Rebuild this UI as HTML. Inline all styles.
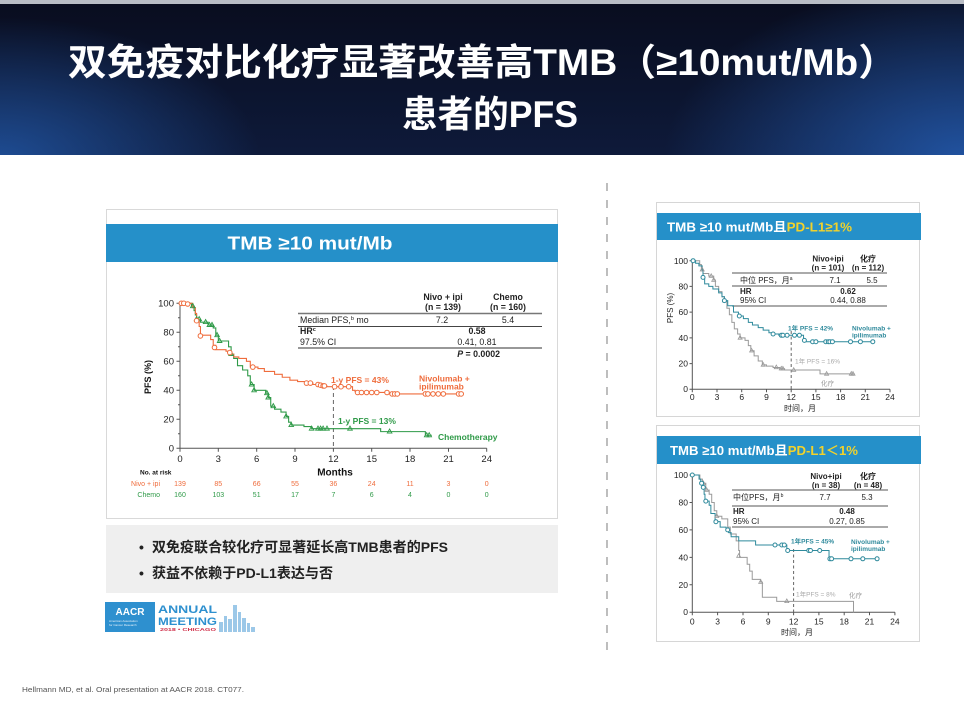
<!DOCTYPE html>
<html><head><meta charset="utf-8"><style>
html,body{margin:0;padding:0;background:#fff;}
svg{display:block;}
text{font-family:"Liberation Sans","Noto Sans CJK SC",sans-serif;}
</style></head><body>
<svg width="964" height="723" viewBox="0 0 964 723" xmlns="http://www.w3.org/2000/svg">
<defs>
<linearGradient id="bg" x1="0" y1="0" x2="0" y2="1">
<stop offset="0" stop-color="#090d1f"/><stop offset="1" stop-color="#0e1a3a"/>
</linearGradient>
<radialGradient id="gl" gradientUnits="userSpaceOnUse" cx="0" cy="160" r="260" gradientTransform="translate(0,160) scale(1,0.55) translate(0,-160)">
<stop offset="0" stop-color="#1f4f98" stop-opacity="0.95"/><stop offset="1" stop-color="#1f4f98" stop-opacity="0"/>
</radialGradient>
<radialGradient id="gr" gradientUnits="userSpaceOnUse" cx="964" cy="160" r="300" gradientTransform="translate(964,160) scale(1,0.6) translate(-964,-160)">
<stop offset="0" stop-color="#2256a6" stop-opacity="0.95"/><stop offset="1" stop-color="#2256a6" stop-opacity="0"/>
</radialGradient>
<circle id="oc" r="2.3" fill="#fff" stroke="#ef6c3c" stroke-width="1"/>
<path id="gt" d="M0,-2.6 L2.3,1.5 L-2.3,1.5Z" fill="none" stroke="#2f9a48" stroke-width="0.9"/>
<circle id="tc" r="2" fill="#fff" stroke="#2f8a9c" stroke-width="1"/>
<path id="yt" d="M0,-2.3 L2,1.3 L-2,1.3Z" fill="none" stroke="#999" stroke-width="0.8"/>
</defs>

<!-- header -->
<rect x="0" y="0" width="964" height="5" fill="#b9bdc5"/>
<rect x="0" y="4" width="964" height="151" fill="url(#bg)"/>
<rect x="0" y="4" width="964" height="151" fill="url(#gl)"/>
<rect x="0" y="4" width="964" height="151" fill="url(#gr)"/>
<text x="68" y="75" font-size="37" font-weight="bold" fill="#fff" textLength="829" lengthAdjust="spacingAndGlyphs">双免疫对比化疗显著改善高TMB（≥10mut/Mb）</text>
<text x="402" y="127" font-size="37" font-weight="bold" fill="#fff" textLength="176" lengthAdjust="spacingAndGlyphs">患者的PFS</text>

<!-- separator -->
<line x1="607" y1="183" x2="607" y2="658" stroke="#9a9a9a" stroke-width="1.3" stroke-dasharray="8 9"/>

<!-- main card -->
<rect x="106.5" y="209.5" width="451" height="309" fill="#fff" stroke="#d9d9d9"/>
<rect x="106" y="224" width="452" height="38" fill="#2590c9"/>
<text x="310" y="249.5" font-size="18.5" font-weight="bold" fill="#fff" text-anchor="middle" textLength="165" lengthAdjust="spacingAndGlyphs">TMB ≥10 mut/Mb</text>

<!-- main axes -->
<g stroke="#555" stroke-width="1" fill="none">
<path d="M180,303.3 V448.3 H486.7"/>
<path d="M176.5,448.3H180M176.5,419.3H180M176.5,390.3H180M176.5,361.3H180M176.5,332.3H180M176.5,303.3H180"/>
<path d="M178,433.8H180M178,404.8H180M178,375.8H180M178,346.8H180M178,317.8H180"/>
<path d="M180,448.3v3.5M218.3,448.3v3.5M256.7,448.3v3.5M295,448.3v3.5M333.4,448.3v3.5M371.7,448.3v3.5M410,448.3v3.5M448.5,448.3v3.5M486.7,448.3v3.5"/>
</g>
<g font-size="9.5" fill="#222" text-anchor="end">
<text x="174" y="451.5">0</text><text x="174" y="422.5">20</text><text x="174" y="393.5">40</text><text x="174" y="364.5">60</text><text x="174" y="335.5">80</text><text x="174" y="306.5">100</text>
</g>
<g font-size="9.5" fill="#222" text-anchor="middle">
<text x="180" y="462">0</text><text x="218.3" y="462">3</text><text x="256.7" y="462">6</text><text x="295" y="462">9</text><text x="333.4" y="462">12</text><text x="371.7" y="462">15</text><text x="410" y="462">18</text><text x="448.5" y="462">21</text><text x="486.7" y="462">24</text>
</g>
<text x="335" y="475.5" font-size="10" font-weight="bold" fill="#111" text-anchor="middle">Months</text>
<text transform="translate(151,377) rotate(-90)" font-size="9" font-weight="bold" fill="#111" text-anchor="middle">PFS (%)</text>
<text x="140" y="474.5" font-size="6.5" font-weight="bold" fill="#111">No. at risk</text>
<g font-size="7" fill="#ef6c3c" text-anchor="middle">
<text x="160" y="486" text-anchor="end">Nivo + ipi</text>
<text x="180" y="486">139</text><text x="218.3" y="486">85</text><text x="256.7" y="486">66</text><text x="295" y="486">55</text><text x="333.4" y="486">36</text><text x="371.7" y="486">24</text><text x="410" y="486">11</text><text x="448.5" y="486">3</text><text x="486.7" y="486">0</text>
</g>
<g font-size="7" fill="#2f9a48" text-anchor="middle">
<text x="160" y="497" text-anchor="end">Chemo</text>
<text x="180" y="497">160</text><text x="218.3" y="497">103</text><text x="256.7" y="497">51</text><text x="295" y="497">17</text><text x="333.4" y="497">7</text><text x="371.7" y="497">6</text><text x="410" y="497">4</text><text x="448.5" y="497">0</text><text x="486.7" y="497">0</text>
</g>

<!-- main table -->
<g font-size="8.8" fill="#222">
<text x="443" y="300" font-weight="bold" text-anchor="middle">Nivo + ipi</text>
<text x="443" y="310" font-weight="bold" text-anchor="middle">(n = 139)</text>
<text x="508" y="300" font-weight="bold" text-anchor="middle">Chemo</text>
<text x="508" y="310" font-weight="bold" text-anchor="middle">(n = 160)</text>
<text x="300" y="323">Median PFS,<tspan font-size="5.5" dy="-3">b</tspan><tspan dy="3"> mo</tspan></text>
<text x="442" y="323" text-anchor="middle">7.2</text>
<text x="508" y="323" text-anchor="middle">5.4</text>
<text x="300" y="334" font-weight="bold">HR<tspan font-size="5.5" dy="-3">c</tspan></text>
<text x="477" y="334" font-weight="bold" text-anchor="middle">0.58</text>
<text x="300" y="345">97.5% CI</text>
<text x="477" y="345" text-anchor="middle">0.41, 0.81</text>
<text x="500" y="357" font-weight="bold" text-anchor="end"><tspan font-style="italic">P</tspan> = 0.0002</text>
</g>
<g stroke="#777" fill="none">
<line x1="298" y1="313.5" x2="542" y2="313.5" stroke-width="1.6"/>
<line x1="298" y1="326.5" x2="542" y2="326.5" stroke-width="1" stroke="#444"/>
<line x1="298" y1="348" x2="542" y2="348" stroke-width="1.6"/>
</g>

<!-- main curves -->
<line x1="333.4" y1="386" x2="333.4" y2="448.3" stroke="#666" stroke-width="1" stroke-dasharray="4 3"/>
<g transform="translate(180,448.3) scale(12.78,-1.45)" fill="none" stroke-width="1.1">
<path vector-effect="non-scaling-stroke" stroke="#2f9a48" d="M0,100 H0.9 V98 H1.1 V95 H1.2 V92 H1.3 V89 H1.6 V87 H2.2 V85 H2.6 V83 H2.8 V78 H3.0 V74 H3.8 V70 H4.0 V65 H4.2 V62 H4.5 V57 H4.9 V54 H5.3 V50 H5.5 V44 H5.8 V40 H6.7 V38 H6.9 V35 H7.1 V29 H7.4 V27 H7.9 V25 H8.3 V22 H8.5 V18 H8.7 V16 H9.7 V15 H10.3 V13.5 H15.7 V11.5 H19.2 V9 H19.7"/>
<path vector-effect="non-scaling-stroke" stroke="#ef6c3c" d="M0,100 H1.0 V97 H1.2 V93 H1.3 V88 H1.5 V84 H1.6 V78 H2.4 V75 H2.6 V71 H2.8 V68 H3.6 V67 H3.9 V65 H4.2 V63 H4.6 V62 H5.2 V60 H5.5 V56 H6.1 V55 H6.6 V53 H7.4 V51 H8 V49 H8.6 V47 H9.2 V46 H9.8 V45 H10.4 V44 H11 V43 H11.5 V42.5 H13.5 V40 H13.7 V39 H14 V38.5 H16.3 V37.5 H22.2"/>
</g>
<g>
<use href="#gt" x="192.8" y="306.2"/><use href="#gt" x="196.6" y="319.2"/><use href="#gt" x="199.2" y="319.2"/><use href="#gt" x="205.6" y="322.1"/><use href="#gt" x="209.4" y="325"/><use href="#gt" x="212" y="325"/><use href="#gt" x="217.1" y="335.2"/><use href="#gt" x="219.6" y="341"/><use href="#gt" x="231.1" y="354"/><use href="#gt" x="251.6" y="384.5"/><use href="#gt" x="254.1" y="390.3"/><use href="#gt" x="266.9" y="393.2"/><use href="#gt" x="268.2" y="397.5"/><use href="#gt" x="273.3" y="406.2"/><use href="#gt" x="286.1" y="416.4"/><use href="#gt" x="291.2" y="425.1"/><use href="#gt" x="311.6" y="428.7"/><use href="#gt" x="318" y="428.7"/><use href="#gt" x="320.6" y="428.7"/><use href="#gt" x="323.1" y="428.7"/><use href="#gt" x="327" y="428.7"/><use href="#gt" x="350" y="428.7"/><use href="#gt" x="389.6" y="431.6"/><use href="#gt" x="426.7" y="435.3"/><use href="#gt" x="429.2" y="435.3"/>
</g>
<g>
<use href="#oc" x="181.3" y="303.3"/><use href="#oc" x="183.8" y="303.3"/><use href="#oc" x="187.7" y="304"/><use href="#oc" x="196.6" y="320.7"/><use href="#oc" x="200.4" y="335.9"/><use href="#oc" x="214.5" y="347.5"/><use href="#oc" x="229.8" y="352.6"/><use href="#oc" x="252.8" y="367.1"/><use href="#oc" x="306.5" y="383.1"/><use href="#oc" x="310.4" y="383.1"/><use href="#oc" x="318" y="384.5"/><use href="#oc" x="320.6" y="385.2"/><use href="#oc" x="323.1" y="385.9"/><use href="#oc" x="324.4" y="385.9"/><use href="#oc" x="334.6" y="386.7"/><use href="#oc" x="341" y="386.7"/><use href="#oc" x="348.7" y="386.7"/><use href="#oc" x="357.6" y="392.5"/><use href="#oc" x="361.5" y="392.5"/><use href="#oc" x="366.6" y="392.5"/><use href="#oc" x="371.7" y="392.5"/><use href="#oc" x="376.8" y="392.5"/><use href="#oc" x="387" y="392.5"/><use href="#oc" x="392.1" y="393.9"/><use href="#oc" x="394.7" y="393.9"/><use href="#oc" x="397.3" y="393.9"/><use href="#oc" x="425.4" y="393.9"/><use href="#oc" x="427.9" y="393.9"/><use href="#oc" x="433" y="393.9"/><use href="#oc" x="438.2" y="393.9"/><use href="#oc" x="443.3" y="393.9"/><use href="#oc" x="458.6" y="393.9"/><use href="#oc" x="461.2" y="393.9"/>
</g>
<g font-size="8.5" font-weight="bold">
<text x="331" y="383" fill="#ef6c3c">1-y PFS = 43%</text>
<text x="419" y="381.5" fill="#ef6c3c">Nivolumab +</text>
<text x="419" y="389.5" fill="#ef6c3c">ipilimumab</text>
<text x="338" y="424" fill="#2f9a48">1-y PFS = 13%</text>
<text x="438" y="440" fill="#2f9a48">Chemotherapy</text>
</g>

<!-- bullet box -->
<rect x="106" y="525" width="452" height="68" fill="#efefef"/>
<g font-size="14" font-weight="bold" fill="#222">
<text x="139" y="552">•</text>
<text x="152" y="552" textLength="296" lengthAdjust="spacingAndGlyphs">双免疫联合较化疗可显著延长高TMB患者的PFS</text>
<text x="139" y="578">•</text>
<text x="152" y="578" textLength="181" lengthAdjust="spacingAndGlyphs">获益不依赖于PD-L1表达与否</text>
</g>

<!-- AACR logo -->
<rect x="105" y="602" width="50" height="30" fill="#2e90cf"/>
<text x="130" y="615" font-size="10" font-weight="bold" fill="#fff" text-anchor="middle">AACR</text>
<text x="109" y="622" font-size="3" fill="#e6f2fa">American Association</text>
<text x="109" y="626" font-size="3" fill="#e6f2fa">for Cancer Research</text>
<text x="158" y="613" font-size="11" font-weight="bold" fill="#2e90cf" textLength="59" lengthAdjust="spacingAndGlyphs">ANNUAL</text>
<text x="158" y="625" font-size="11" font-weight="bold" fill="#2e90cf" textLength="59" lengthAdjust="spacingAndGlyphs">MEETING</text>
<text x="160" y="631" font-size="4.5" font-weight="bold" fill="#d0304a" textLength="56" lengthAdjust="spacingAndGlyphs">2018 • CHICAGO</text>
<g fill="#9cc8e8">
<rect x="219" y="622" width="4" height="10"/><rect x="224" y="616" width="3" height="16"/><rect x="228" y="619" width="4" height="13"/><rect x="233" y="605" width="4" height="27"/><rect x="238" y="612" width="3" height="20"/><rect x="242" y="618" width="4" height="14"/><rect x="247" y="623" width="3" height="9"/><rect x="251" y="627" width="4" height="5"/>
</g>

<!-- right top card -->
<rect x="656.5" y="202.5" width="263" height="214" fill="#fff" stroke="#d6d6d6"/>
<rect x="657" y="213" width="264" height="27" fill="#2590c9"/>
<text x="667" y="231.5" font-size="13" font-weight="bold" fill="#fff" textLength="185" lengthAdjust="spacingAndGlyphs">TMB ≥10 mut/Mb且<tspan fill="#f2d22a">PD-L1≥1%</tspan></text>

<g stroke="#555" stroke-width="1" fill="none">
<path d="M692.3,260.7 V389.3 H890"/>
<path d="M689.5,389.3H692.3M689.5,363.6H692.3M689.5,337.9H692.3M689.5,312.1H692.3M689.5,286.4H692.3M689.5,260.7H692.3"/>
<path d="M692.3,389.3v3M717,389.3v3M741.7,389.3v3M766.5,389.3v3M791.2,389.3v3M815.9,389.3v3M840.6,389.3v3M865.3,389.3v3M890,389.3v3"/>
</g>
<g font-size="8.5" fill="#222" text-anchor="end">
<text x="688" y="392">0</text><text x="688" y="366.5">20</text><text x="688" y="341">40</text><text x="688" y="315">60</text><text x="688" y="289.5">80</text><text x="688" y="264">100</text>
</g>
<g font-size="8.5" fill="#222" text-anchor="middle">
<text x="692.3" y="400">0</text><text x="717" y="400">3</text><text x="741.7" y="400">6</text><text x="766.5" y="400">9</text><text x="791.2" y="400">12</text><text x="815.9" y="400">15</text><text x="840.6" y="400">18</text><text x="865.3" y="400">21</text><text x="890" y="400">24</text>
</g>
<text x="800" y="411" font-size="8" fill="#222" text-anchor="middle">时间，月</text>
<text transform="translate(673,308) rotate(-90)" font-size="8" fill="#222" text-anchor="middle">PFS (%)</text>

<g font-size="8" fill="#222">
<text x="828" y="261.5" font-weight="bold" text-anchor="middle">Nivo+ipi</text>
<text x="828" y="270.5" font-weight="bold" text-anchor="middle">(n = 101)</text>
<text x="868" y="261.5" font-weight="bold" text-anchor="middle">化疗</text>
<text x="868" y="270.5" font-weight="bold" text-anchor="middle">(n = 112)</text>
<text x="740" y="283">中位 PFS，月<tspan font-size="5" dy="-3">a</tspan></text>
<text x="835" y="283" text-anchor="middle">7.1</text>
<text x="872" y="283" text-anchor="middle">5.5</text>
<text x="740" y="294" font-weight="bold">HR</text>
<text x="848" y="294" font-weight="bold" text-anchor="middle">0.62</text>
<text x="740" y="303">95% CI</text>
<text x="848" y="303" text-anchor="middle">0.44, 0.88</text>
</g>
<g stroke="#777" fill="none">
<line x1="732" y1="273" x2="887" y2="273" stroke-width="1.3"/>
<line x1="732" y1="286" x2="887" y2="286" stroke-width="1.3"/>
<line x1="732" y1="306" x2="887" y2="306" stroke-width="1.3"/>
</g>

<line x1="791.2" y1="331" x2="791.2" y2="389.3" stroke="#666" stroke-width="1" stroke-dasharray="3 2.5"/>
<g transform="translate(692.3,389.3) scale(8.24,-1.286)" fill="none" stroke-width="1">
<path vector-effect="non-scaling-stroke" stroke="#9a9a9a" d="M0,100 H0.9 V97 H1.1 V93 H1.3 V90 H2.0 V88 H2.6 V85 H2.8 V80 H3.2 V76 H3.6 V72 H3.9 V69 H4.2 V63 H4.5 V58 H4.8 V52 H5.1 V47 H5.5 V43 H5.8 V40 H6.4 V38 H6.8 V34 H7.1 V30 H7.5 V26 H8.0 V22 H8.5 V19 H9 V18 H9.8 V17 H10.6 V16 H11.2 V15 H15.5 V12 H19.7"/>
<path vector-effect="non-scaling-stroke" stroke="#2f8a9c" d="M0,100 H0.4 V98 H0.8 V96 H1.2 V92 H1.3 V87 H1.5 V82 H2 V80 H2.5 V78 H3.2 V75 H3.6 V72 H3.9 V69 H4.3 V65 H5 V60 H5.6 V57 H6.2 V55 H6.8 V52 H7.3 V50 H8 V48 H8.6 V46 H9.3 V44 H9.7 V43 H10.5 V42 H13.5 V38 H13.7 V37 H22"/>
</g>
<g>
<use href="#yt" x="702.2" y="269.7"/><use href="#yt" x="711.2" y="276.1"/><use href="#yt" x="713.7" y="280"/><use href="#yt" x="724.4" y="300.6"/><use href="#yt" x="740.1" y="337.9"/><use href="#yt" x="751.6" y="350.7"/><use href="#yt" x="763.2" y="364.9"/><use href="#yt" x="776.3" y="367.4"/><use href="#yt" x="781.3" y="368.7"/><use href="#yt" x="782.9" y="368.7"/><use href="#yt" x="793.7" y="370"/><use href="#yt" x="826.6" y="373.9"/><use href="#yt" x="851.3" y="373.9"/><use href="#yt" x="853" y="373.9"/>
</g>
<g>
<use href="#tc" x="693.1" y="260.7"/><use href="#tc" x="703" y="277.4"/><use href="#tc" x="724.4" y="300.6"/><use href="#tc" x="739.3" y="316"/><use href="#tc" x="773.1" y="334"/><use href="#tc" x="781.3" y="335.3"/><use href="#tc" x="782.9" y="335.3"/><use href="#tc" x="787.1" y="335.3"/><use href="#tc" x="794.5" y="335.3"/><use href="#tc" x="799.4" y="335.3"/><use href="#tc" x="804.4" y="340.4"/><use href="#tc" x="812.6" y="341.7"/><use href="#tc" x="815.9" y="341.7"/><use href="#tc" x="825.8" y="341.7"/><use href="#tc" x="828.3" y="341.7"/><use href="#tc" x="829.9" y="341.7"/><use href="#tc" x="832.4" y="341.7"/><use href="#tc" x="850.5" y="341.7"/><use href="#tc" x="860.4" y="341.7"/><use href="#tc" x="872.8" y="341.7"/>
</g>
<g font-size="6.5">
<text x="788" y="330.5" fill="#2f8a9c" font-weight="bold">1年 PFS = 42%</text>
<text x="852" y="330.5" fill="#2f8a9c" font-weight="bold">Nivolumab +</text>
<text x="852" y="337.5" fill="#2f8a9c" font-weight="bold">ipilimumab</text>
<text x="795" y="363.5" fill="#aaa">1年 PFS = 16%</text>
<text x="821" y="385.5" fill="#999">化疗</text>
</g>

<!-- right bottom card -->
<rect x="656.5" y="425.5" width="263" height="216" fill="#fff" stroke="#d6d6d6"/>
<rect x="657" y="436" width="264" height="28" fill="#2590c9"/>
<text x="670" y="455" font-size="13" font-weight="bold" fill="#fff" textLength="188" lengthAdjust="spacingAndGlyphs">TMB ≥10 mut/Mb且<tspan fill="#f2d22a">PD-L1＜1%</tspan></text>

<g stroke="#555" stroke-width="1" fill="none">
<path d="M692.3,475 V612.3 H894.9"/>
<path d="M689.5,612.3H692.3M689.5,584.8H692.3M689.5,557.4H692.3M689.5,529.9H692.3M689.5,502.5H692.3M689.5,475H692.3"/>
<path d="M692.3,612.3v3M717.6,612.3v3M743,612.3v3M768.3,612.3v3M793.6,612.3v3M818.9,612.3v3M844.2,612.3v3M869.5,612.3v3M894.9,612.3v3"/>
</g>
<g font-size="8.5" fill="#222" text-anchor="end">
<text x="688" y="615">0</text><text x="688" y="587.8">20</text><text x="688" y="560.4">40</text><text x="688" y="533">60</text><text x="688" y="505.5">80</text><text x="688" y="478">100</text>
</g>
<g font-size="8.5" fill="#222" text-anchor="middle">
<text x="692.3" y="624.5">0</text><text x="717.6" y="624.5">3</text><text x="743" y="624.5">6</text><text x="768.3" y="624.5">9</text><text x="793.6" y="624.5">12</text><text x="818.9" y="624.5">15</text><text x="844.2" y="624.5">18</text><text x="869.5" y="624.5">21</text><text x="894.9" y="624.5">24</text>
</g>
<text x="797" y="635" font-size="8" fill="#222" text-anchor="middle">时间，月</text>

<g font-size="8" fill="#222">
<text x="826" y="479" font-weight="bold" text-anchor="middle">Nivo+ipi</text>
<text x="826" y="488" font-weight="bold" text-anchor="middle">(n = 38)</text>
<text x="868" y="479" font-weight="bold" text-anchor="middle">化疗</text>
<text x="868" y="488" font-weight="bold" text-anchor="middle">(n = 48)</text>
<text x="733" y="500">中位PFS，月<tspan font-size="5" dy="-3">b</tspan></text>
<text x="825" y="500" text-anchor="middle">7.7</text>
<text x="867" y="500" text-anchor="middle">5.3</text>
<text x="733" y="514" font-weight="bold">HR</text>
<text x="847" y="514" font-weight="bold" text-anchor="middle">0.48</text>
<text x="733" y="524">95% CI</text>
<text x="847" y="524" text-anchor="middle">0.27, 0.85</text>
</g>
<g stroke="#777" fill="none">
<line x1="732" y1="490" x2="888" y2="490" stroke-width="1.3"/>
<line x1="732" y1="506" x2="888" y2="506" stroke-width="1.3"/>
<line x1="732" y1="527" x2="888" y2="527" stroke-width="1.3"/>
</g>

<line x1="793.6" y1="549" x2="793.6" y2="612.3" stroke="#666" stroke-width="1" stroke-dasharray="3 2.5"/>
<g transform="translate(692.3,612.3) scale(8.44,-1.373)" fill="none" stroke-width="1">
<path vector-effect="non-scaling-stroke" stroke="#9a9a9a" d="M0,100 H0.9 V97 H1.2 V94 H1.6 V89 H2.0 V86 H2.3 V80 H2.6 V74 H2.9 V70 H3.5 V68 H4.2 V62 H4.5 V57 H5.2 V52 H5.5 V45 H5.6 V40 H6.5 V35 H6.8 V30 H7.1 V24 H8.1 V22 H8.3 V11 H10 V8 H19.1 V0"/>
<path vector-effect="non-scaling-stroke" stroke="#2f8a9c" d="M0,100 H0.8 V97 H1.0 V94 H1.2 V91 H1.4 V86 H1.5 V81 H2.0 V78 H2.2 V72 H2.7 V66 H3.3 V62 H4.0 V60 H4.3 V58 H4.6 V55 H5.5 V52 H7.5 V49 H11.2 V45 H16.2 V39 H22.1"/>
</g>
<g>
<use href="#yt" x="703.3" y="483.2"/><use href="#yt" x="706.7" y="490.1"/><use href="#yt" x="716.8" y="516.2"/><use href="#yt" x="738.7" y="556"/><use href="#yt" x="760.7" y="582.1"/><use href="#yt" x="786.8" y="601.3"/>
</g>
<g>
<use href="#tc" x="692.3" y="475"/><use href="#tc" x="701.6" y="483.2"/><use href="#tc" x="703.3" y="487.4"/><use href="#tc" x="705.8" y="501.1"/><use href="#tc" x="715.9" y="521.7"/><use href="#tc" x="727.7" y="529.9"/><use href="#tc" x="775" y="545"/><use href="#tc" x="781.8" y="545"/><use href="#tc" x="784.3" y="545"/><use href="#tc" x="787.7" y="550.5"/><use href="#tc" x="808.8" y="550.5"/><use href="#tc" x="810.5" y="550.5"/><use href="#tc" x="819.7" y="550.5"/><use href="#tc" x="829.9" y="558.8"/><use href="#tc" x="831.6" y="558.8"/><use href="#tc" x="851" y="558.8"/><use href="#tc" x="862.8" y="558.8"/><use href="#tc" x="877.1" y="558.8"/>
</g>
<g font-size="6.5">
<text x="791" y="543.5" fill="#2f8a9c" font-weight="bold">1年PFS = 45%</text>
<text x="851" y="544" fill="#2f8a9c" font-weight="bold">Nivolumab +</text>
<text x="851" y="551" fill="#2f8a9c" font-weight="bold">ipilimumab</text>
<text x="796" y="596.5" fill="#aaa">1年PFS = 8%</text>
<text x="849" y="597.5" fill="#999">化疗</text>
</g>

<!-- footnote -->
<text x="22" y="692" font-size="7.5" fill="#555" textLength="222" lengthAdjust="spacingAndGlyphs">Hellmann MD, et al. Oral presentation at AACR 2018. CT077.</text>
</svg>
</body></html>
